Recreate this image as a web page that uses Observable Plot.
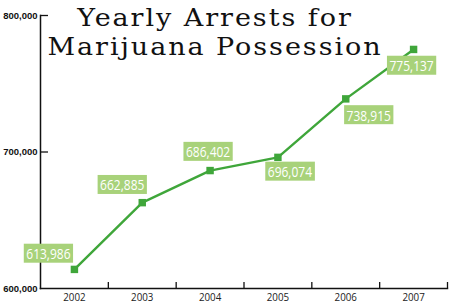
<!DOCTYPE html>
<html>
<head>
<meta charset="utf-8">
<script src="https://cdn.jsdelivr.net/npm/d3@7"></script>
<script src="https://cdn.jsdelivr.net/npm/@observablehq/plot@0.6"></script>
<style>
  html, body { margin: 0; padding: 0; background: #fff; }
  #wrap { position: relative; width: 450px; height: 305px; }
  .tl { position: absolute; left: 30px; width: 370px; text-align: center; height: 29px;
    font-family: "DejaVu Serif", serif; font-size: 25px; line-height: 29px; color: #111;
    letter-spacing: 1.8px; white-space: nowrap; transform: scaleX(1.08); transform-origin: 50% 50%; }
  #t1 { top: 3px; }
  #t2 { top: 32px; }
</style>
</head>
<body>
<div id="wrap">
  <div id="chart"></div>
  <div class="tl" id="t1">Yearly Arrests for</div>
  <div class="tl" id="t2">Marijuana Possession</div>
</div>
<script>
const years = [2002, 2003, 2004, 2005, 2006, 2007];
const arrests = [613986, 662885, 686402, 696074, 738915, 775137];
const yTicks = [600000, 700000, 800000];

// label placement (pixel offsets from each point)
const labelDx = [-26, -20, -2, 12, 23, -2];
const labelDy = [-15, -17, -18, 15, 17, 17];

const data = years.map((y, i) => ({year: y, value: arrests[i]}));
const bounds = years.map(y => y + 0.5);
const green = "#3fa63a";
const labelFont = "'Open Sans', sans-serif";

const labelMarks = data.map((d, i) => Plot.text([d], {
  x: "year", y: "value", text: d => d3.format(",")(d.value),
  dx: labelDx[i], dy: labelDy[i], fill: "white", fontSize: 15,
  fontFamily: labelFont, textAnchor: "middle", lineAnchor: "middle", className: "vlabel"
}));

const chart = Plot.plot({
  width: 450, height: 305,
  marginLeft: 40, marginRight: 3, marginTop: 15, marginBottom: 17,
  style: {background: "white", overflow: "visible"},
  x: {type: "linear", domain: [years[0] - 0.5, years[years.length - 1] + 0.5]},
  y: {domain: [600000, 800000]},
  marks: [
    Plot.axisX({ticks: years, tickSize: 0, tickPadding: 4, tickFormat: d => String(d),
      fontSize: 11.5, fontFamily: labelFont, fill: "#222", label: null, className: "xlab"}),
    Plot.axisX({ticks: bounds, tickSize: -6, text: null, label: null, stroke: "#111", strokeWidth: 1.3}),
    Plot.axisY({ticks: yTicks, tickSize: 0, tickPadding: 3, tickFormat: d3.format(","),
      fontSize: 9.5, fontWeight: "bold", fontFamily: "'Liberation Sans', Arial, sans-serif", fill: "#111", label: null}),
    Plot.axisY({ticks: yTicks.slice(1), tickSize: -8, text: null, label: null, stroke: "#111", strokeWidth: 1.3}),
    Plot.frame({anchor: "left", stroke: "#111", strokeWidth: 1.5}),
    Plot.frame({anchor: "bottom", stroke: "#111", strokeWidth: 1.5}),
    Plot.line(data, {x: "year", y: "value", stroke: green, strokeWidth: 2.4}),
    Plot.dot(data, {x: "year", y: "value", symbol: "square", r: 4.2, fill: green, stroke: "none"}),
    ...labelMarks
  ]
});
document.getElementById("chart").appendChild(chart);

// condense text (the reference uses a condensed face)
function condense(t, k) {
  const w = t.getComputedTextLength();
  t.setAttribute("textLength", w * k);
  t.setAttribute("lengthAdjust", "spacingAndGlyphs");
}
chart.querySelectorAll(".xlab text").forEach(t => condense(t, 0.85));

// draw the label boxes behind each value text
chart.querySelectorAll(".vlabel text").forEach(t => {
  condense(t, 0.8);
  const b = t.getBBox();
  const r = document.createElementNS("http://www.w3.org/2000/svg", "rect");
  r.setAttribute("x", b.x - 2.5);
  r.setAttribute("y", b.y + 0.5);
  r.setAttribute("width", b.width + 5);
  r.setAttribute("height", b.height - 1);
  r.setAttribute("fill", "#a8d27a");
  const tr = t.getAttribute("transform");
  if (tr) r.setAttribute("transform", tr);
  t.parentNode.insertBefore(r, t);
});
</script>
</body>
</html>
